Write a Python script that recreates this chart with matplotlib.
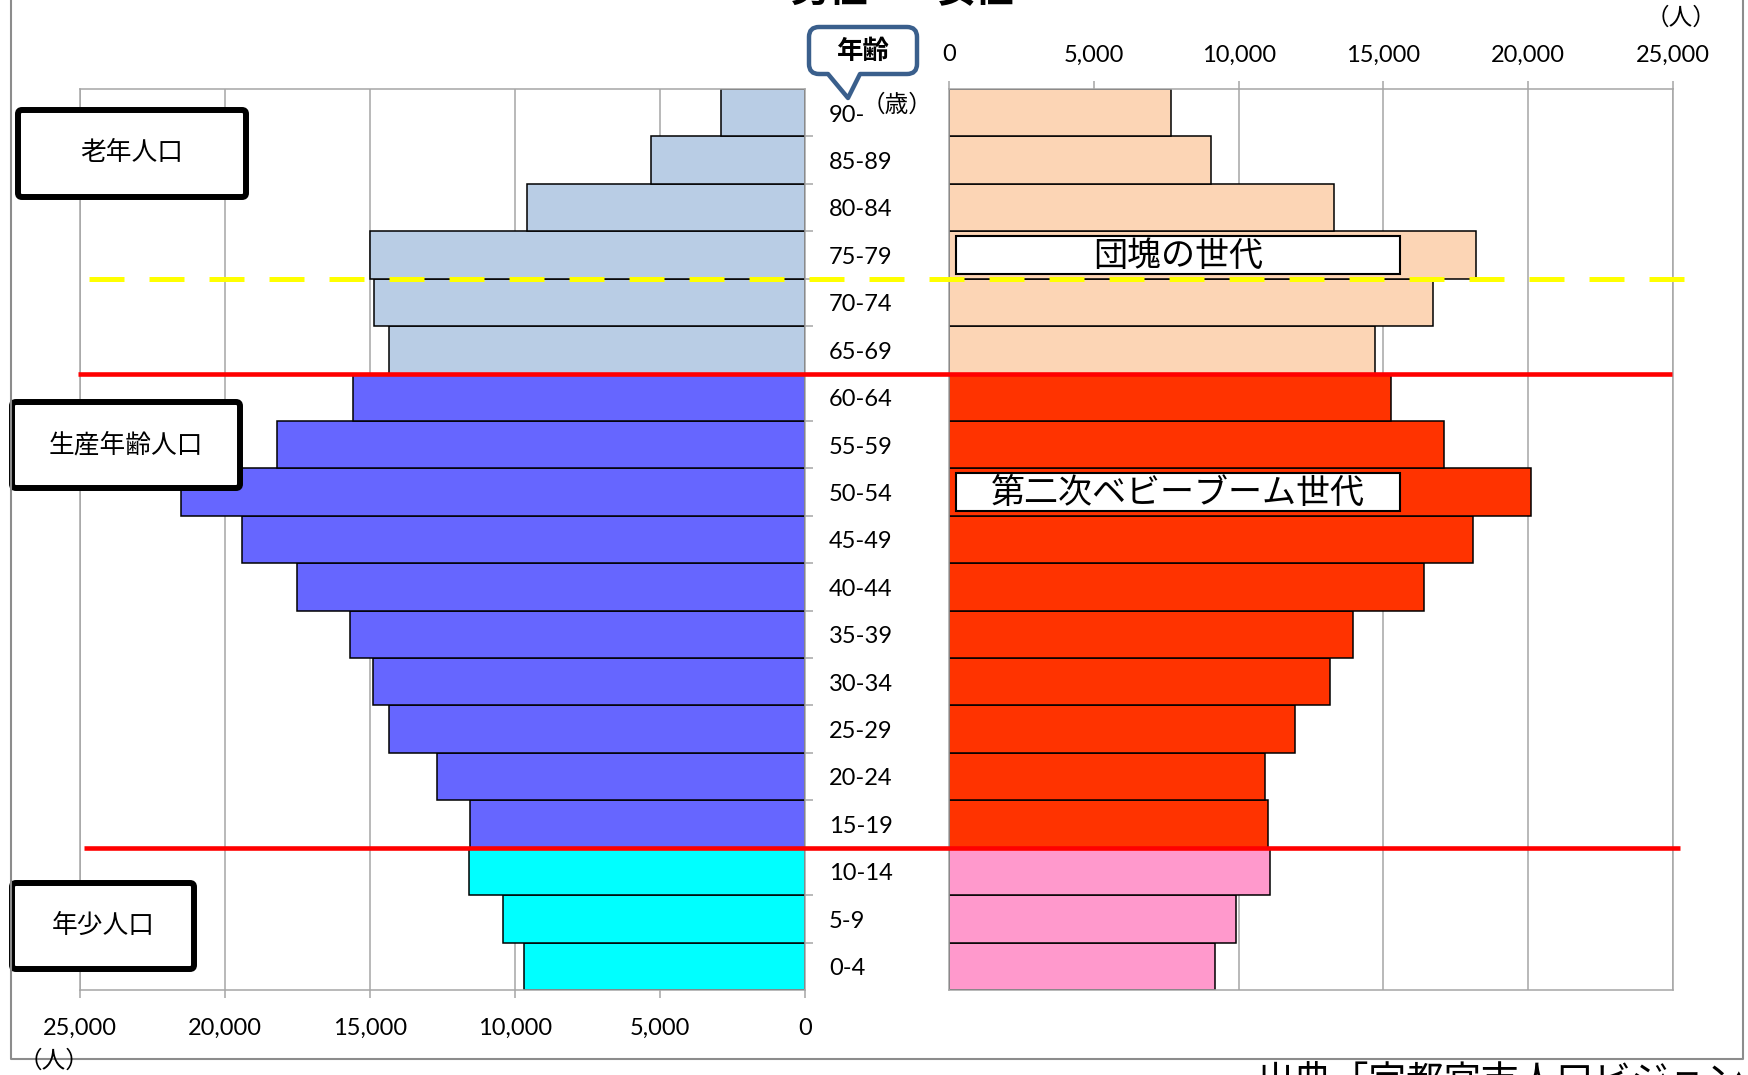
import matplotlib
matplotlib.use("Agg")
import matplotlib.pyplot as plt
from matplotlib.patches import FancyBboxPatch, Rectangle, PathPatch
from matplotlib.path import Path
from matplotlib.ticker import FuncFormatter, FixedLocator
from matplotlib.transforms import blended_transform_factory

plt.rcParams['font.family'] = ['Lato', 'Noto Sans CJK JP', 'DejaVu Sans']

# data, bottom row first
ages = ['0-4', '5-9', '10-14', '15-19', '20-24', '25-29', '30-34', '35-39', '40-44',
        '45-49', '50-54', '55-59', '60-64', '65-69', '70-74', '75-79', '80-84', '85-89', '90-']
male = [9700, 10400, 11600, 11550, 12700, 14350, 14900, 15700, 17500, 19400,
        21500, 18200, 15600, 14350, 14850, 15000, 9600, 5300, 2900]
female = [9200, 9900, 11100, 11000, 10900, 11950, 13150, 13950, 16400, 18100,
          20100, 17100, 15250, 14700, 16700, 18200, 13300, 9050, 7650]
groups = ['young'] * 3 + ['work'] * 10 + ['old'] * 6
group_labels = {'old': '老年人口', 'work': '生産年齢人口', 'young': '年少人口'}
male_colors = {'young': '#00FFFF', 'work': '#6666FF', 'old': '#B9CDE5'}
female_colors = {'young': '#FF99CC', 'work': '#FF3300', 'old': '#FCD5B5'}
x_ticks = [0, 5000, 10000, 15000, 20000, 25000]

# layout in figure pixels
W, H = 1748, 1075
TOP, BOT = 89, 990
LX0, LX1 = 80, 805
RX0, RX1 = 949, 1673
ROW_H = (BOT - TOP) / len(ages)
GRID = '#A6A6A6'


def row_y(b):
    return TOP + (len(ages) - 0.5 - b) * ROW_H


def frac(x0, x1):
    return [x0 / W, 1 - BOT / H, (x1 - x0) / W, (BOT - TOP) / H]


fig = plt.figure(figsize=(W / 100, H / 100), dpi=100)
ax_l = fig.add_axes(frac(LX0, LX1))
ax_r = fig.add_axes(frac(RX0, RX1))

idx = list(range(len(ages)))
fmt = FuncFormatter(lambda v, p: f"{int(v):,}")

ax_l.barh(idx, male, height=1.0, color=[male_colors[g] for g in groups],
          edgecolor='black', linewidth=1.1, zorder=2)
ax_r.barh(idx, female, height=1.0, color=[female_colors[g] for g in groups],
          edgecolor='black', linewidth=1.1, zorder=2)

for ax in (ax_l, ax_r):
    ax.set_ylim(-0.5, len(ages) - 0.5)
    ax.xaxis.set_major_locator(FixedLocator(x_ticks))
    ax.xaxis.set_major_formatter(fmt)
    ax.grid(axis='x', color=GRID, linewidth=1.1, zorder=0)
    ax.set_axisbelow(True)
    for s in ax.spines.values():
        s.set_color(GRID)
        s.set_linewidth(1.1)
    ax.tick_params(axis='x', length=6, width=1.1, color=GRID, pad=14, labelsize=17)
    ax.set_yticks([])

ax_l.set_xlim(25000, 0)
ax_r.set_xlim(0, 25000)
ax_r.xaxis.tick_top()
ax_r.tick_params(axis='x', pad=11)

# small ticks at row boundaries next to the age column
ax_l.yaxis.tick_right()
ax_l.set_yticks([i + 0.5 for i in idx[:-1]])
ax_l.set_yticklabels([])
ax_l.tick_params(axis='y', length=6, width=1.1, color=GRID)
ax_l.spines['right'].set_zorder(3)

tr = blended_transform_factory(ax_l.transAxes, ax_l.transData)
for i, a in enumerate(ages):
    ax_l.text(1 + 24 / (LX1 - LX0), i - 0.05, a, transform=tr, ha='left', va='center',
              fontsize=17, clip_on=False)

# overlay for annotations, pixel coordinates
ov = fig.add_axes([0, 0, 1, 1], zorder=10)
ov.set_xlim(0, W)
ov.set_ylim(H, 0)
ov.axis('off')
ov.patch.set_alpha(0)

cjk = 'Noto Sans CJK JP'

ov.text(862, 105, '（歳）', family=cjk, fontsize=17, va='center', ha='left')

# group boxes
for g, (x0, y0, x1, y1) in {'old': (18, 110, 246, 197),
                            'work': (12, 402, 240, 488),
                            'young': (12, 883, 194, 969)}.items():
    ov.add_patch(FancyBboxPatch((x0, y0), x1 - x0, y1 - y0,
                                boxstyle='round,pad=0,rounding_size=4',
                                facecolor='white', edgecolor='black', linewidth=4.3))
    ov.text((x0 + x1) / 2, (y0 + y1) / 2, group_labels[g], family=cjk,
            fontsize=18.5, ha='center', va='center')

# boundary lines
ov.plot([78, 1672], [row_y(12.5)] * 2, color='#FF0000', linewidth=3.3, solid_capstyle='butt')
ov.plot([84, 1680], [row_y(2.5)] * 2, color='#FF0000', linewidth=3.3, solid_capstyle='butt')
ov.plot([89, 1689], [row_y(14.5)] * 2, color='#FFFF00', linewidth=3.6,
        dashes=(7.0, 5.0), solid_capstyle='butt')

# generation labels
for text, row in [('団塊の世代', 15), ('第二次ベビーブーム世代', 10)]:
    yc = row_y(row)
    ov.add_patch(Rectangle((956, yc - 19), 444, 38, facecolor='white',
                           edgecolor='black', linewidth=1.5))
    ov.text(1178, yc + 1, text, family=cjk, fontsize=24.5, ha='center', va='center')

# callout "年齢"
x0, x1, y0, y1, r = 809, 917, 27, 74, 10
xa, xb, tip = 828, 860, (848, 98)
verts = [(x0 + r, y0), (x1 - r, y0), (x1, y0), (x1, y0 + r), (x1, y1 - r), (x1, y1),
         (x1 - r, y1), (xb, y1), tip, (xa, y1), (x0 + r, y1), (x0, y1), (x0, y1 - r),
         (x0, y0 + r), (x0, y0), (x0 + r, y0), (x0 + r, y0)]
codes = [Path.MOVETO, Path.LINETO, Path.CURVE3, Path.CURVE3, Path.LINETO, Path.CURVE3,
         Path.CURVE3, Path.LINETO, Path.LINETO, Path.LINETO, Path.LINETO, Path.CURVE3,
         Path.CURVE3, Path.LINETO, Path.CURVE3, Path.CURVE3, Path.CLOSEPOLY]
ov.add_patch(PathPatch(Path(verts, codes), facecolor='white', edgecolor='#3A5F8C',
                       linewidth=3.2, joinstyle='round'))
ov.text((x0 + x1) / 2, (y0 + y1) / 2 + 1, '年齢', family=cjk, fontsize=19,
        fontweight='bold', ha='center', va='center')

# unit labels
ov.text(1681, 18, '（人）', family=cjk, fontsize=17, ha='center', va='center')
ov.text(54, 1061, '（人）', family=cjk, fontsize=17, ha='center', va='center')

# outer frame
ov.plot([11, 11, 1743, 1743], [0, 1059, 1059, 0], color='#8C8C8C', linewidth=1.5)

# title and source, cut by the figure edge as in the original
ov.text(830, 2, '男性', family=cjk, fontsize=28, fontweight='bold', ha='center', va='baseline')
ov.text(975, 2, '女性', family=cjk, fontsize=28, fontweight='bold', ha='center', va='baseline')
ov.text(1257, 1064, '出典「宇都宮市人口ビジョン」', family=cjk, fontsize=27, ha='left', va='top')

fig.savefig('out.png', dpi=100)
